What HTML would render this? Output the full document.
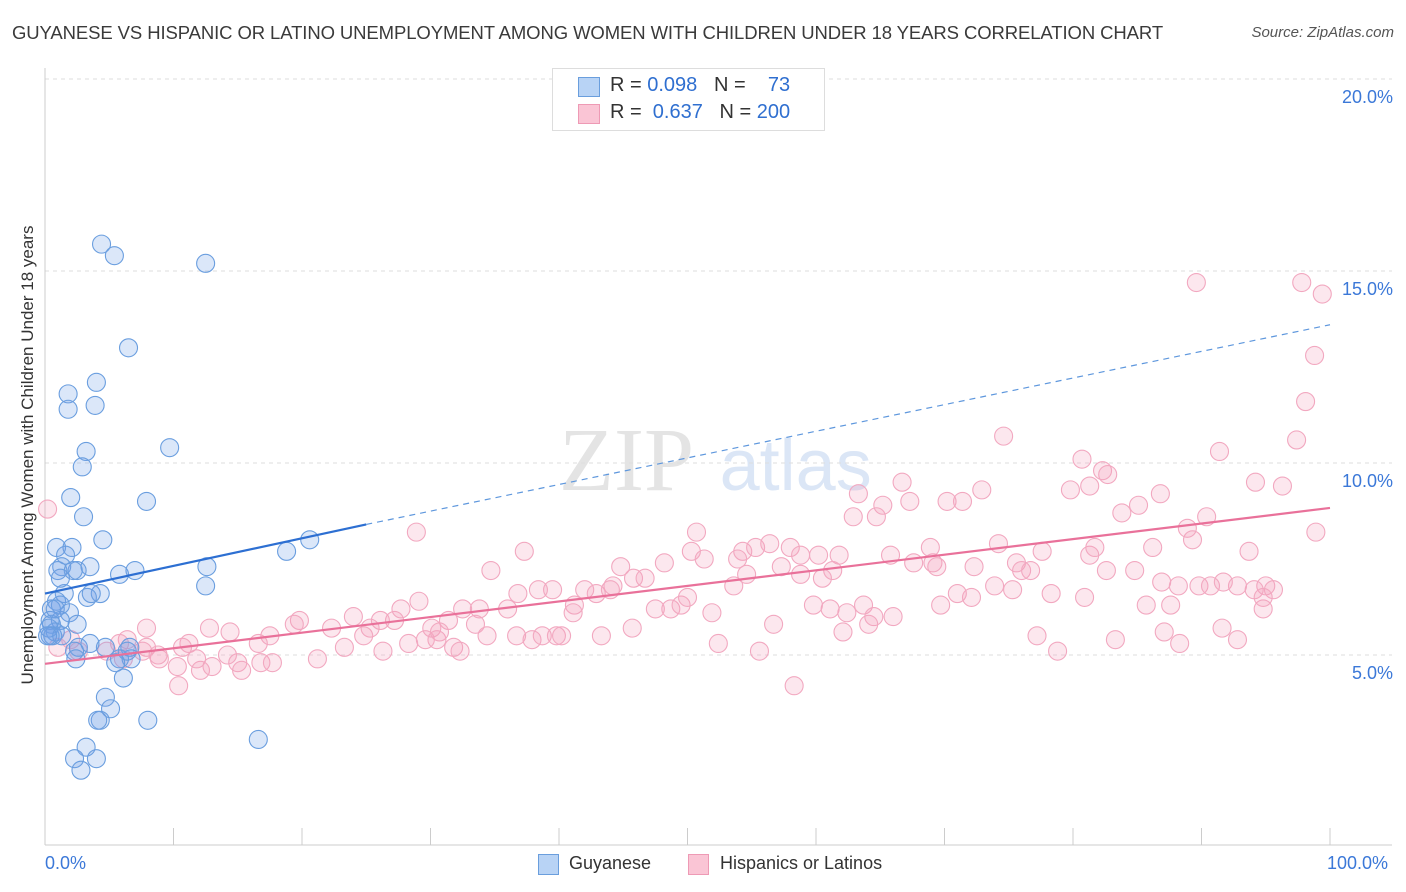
<!DOCTYPE html>
<html><head><meta charset="utf-8">
<style>
body{margin:0;background:#fff;font-family:"Liberation Sans",sans-serif;}
#wrap{position:relative;width:1406px;height:892px;overflow:hidden;}
.t{position:absolute;white-space:nowrap;}
</style></head>
<body>
<div id="wrap">
<div class="t" style="left:12px;top:22px;font-size:18.5px;color:#3a3a3a;letter-spacing:-0.1px;">GUYANESE VS HISPANIC OR LATINO UNEMPLOYMENT AMONG WOMEN WITH CHILDREN UNDER 18 YEARS CORRELATION CHART</div>
<div class="t" style="right:12px;top:24px;font-size:15px;color:#555;font-style:italic;">Source: ZipAtlas.com</div>
<svg id="plot" width="1406" height="892" style="position:absolute;left:0;top:0"></svg>
<div class="t" style="left:552px;top:68px;width:271px;height:61px;border:1px solid #ddd;background:#fff;">
 <div style="position:absolute;left:25px;top:8px;width:20px;height:18px;background:#b8d3f5;border:1px solid #6a9edd;"></div>
 <div style="position:absolute;left:25px;top:35px;width:20px;height:18px;background:#fac5d5;border:1px solid #ee9ab5;"></div>
 <div class="t" style="left:57px;top:5px;font-size:20px;color:#333;">R = <span style="color:#2f6fd0">0.098</span>&nbsp;&nbsp;&nbsp;N = &nbsp;&nbsp;&nbsp;<span style="color:#2f6fd0">73</span></div>
 <div class="t" style="left:57px;top:32px;font-size:20px;color:#333;">R = &nbsp;<span style="color:#2f6fd0">0.637</span>&nbsp;&nbsp;&nbsp;N = <span style="color:#2f6fd0">200</span></div>
</div>
<div class="t" style="left:28px;top:455px;font-size:17px;color:#333;transform:translate(-50%,-50%) rotate(-90deg);">Unemployment Among Women with Children Under 18 years</div>
<div class="t" style="left:45px;top:853px;font-size:18px;color:#3b78d8;">0.0%</div>
<div class="t" style="left:1327px;top:853px;font-size:18px;color:#3b78d8;">100.0%</div>
<div style="position:absolute;left:538px;top:854px;width:19px;height:19px;background:#b8d3f5;border:1px solid #6a9edd;"></div>
<div class="t" style="left:569px;top:853px;font-size:18px;color:#333;">Guyanese</div>
<div style="position:absolute;left:688px;top:854px;width:19px;height:19px;background:#fac5d5;border:1px solid #ee9ab5;"></div>
<div class="t" style="left:720px;top:853px;font-size:18px;color:#333;">Hispanics or Latinos</div>
</div>
<script>
const yTicks=[5,10,15,20];
const yTickLabels=["5.0%","10.0%","15.0%","20.0%"];
const xTicks=[0,10,20,30,40,50,60,70,80,90,100];
const blueX=[4.4,5.4,12.5,6.5,4.0,1.8,3.9,1.8,9.7,3.2,2.9,2.0,7.9,3.0,4.5,20.6,0.9,2.1,1.6,18.8,1.3,3.5,2.5,7.0,1.0,2.2,5.8,12.6,12.5,4.3,3.3,3.6,1.5,0.9,1.2,0.5,1.9,1.2,0.4,2.5,0.5,0.8,0.3,0.6,0.4,2.6,2.3,4.7,6.6,5.8,6.7,5.5,2.4,6.1,4.7,5.1,4.3,4.1,8.0,3.2,16.6,2.3,4.0,2.8,0.8,1.3,0.2,1.2,3.5,6.4];
const blueY=[15.7,15.4,15.2,13.0,12.1,11.8,11.5,11.4,10.4,10.3,9.9,9.1,9.0,8.6,8.0,8.0,7.8,7.8,7.6,7.7,7.3,7.3,7.2,7.2,7.2,7.2,7.1,7.3,6.8,6.6,6.5,6.6,6.6,6.4,6.3,6.2,6.1,5.9,5.9,5.8,5.8,5.6,5.7,5.5,5.5,5.2,5.1,5.2,5.2,4.9,4.9,4.8,4.9,4.4,3.9,3.6,3.3,3.3,3.3,2.6,2.8,2.3,2.3,2.0,6.2,5.5,5.5,7.0,5.3,5.1];
const pinkX=[0.2,28.9,37.3,50.7,74.6,89.6,97.8,99.4,98.8,98.1,97.4,91.4,80.7,82.3,82.7,81.3,79.8,94.2,96.3,86.8,66.7,63.3,65.2,67.3,70.2,71.4,72.9,62.9,64.7,85.1,83.8,90.4,88.9,89.3,98.9,50.3,51.3,54.3,55.3,56.4,58.0,60.2,58.8,54.6,53.9,53.6,57.3,58.8,61.8,65.8,67.6,69.1,69.4,68.9,74.2,77.6,81.3,86.2,81.7,93.7,75.6,72.3,76.0,76.7,82.6,84.8,92.8,95.0,95.6,86.9,89.8,90.7,91.7,94.1,85.7,88.2,87.6,94.8,94.8,80.9,78.3,75.3,73.9,71.0,72.1,69.7,61.1,59.8,62.4,63.7,64.5,61.3,60.5,66.0,44.8,48.2,45.8,46.7,44.2,42.0,42.9,44.0,39.5,36.8,38.4,34.7,36.0,33.8,32.5,33.5,31.4,30.1,30.5,29.6,27.7,27.2,29.1,26.1,24.0,22.3,19.8,19.4,17.5,16.6,14.4,12.8,11.2,10.7,7.9,7.9,6.4,5.8,4.8,2.0,1.0,2.6,6.1,8.9,7.6,8.8,10.3,12.1,13.0,15.0,16.8,17.7,15.3,21.2,10.4,11.8,14.2,23.3,25.3,24.8,26.3,28.3,30.7,31.8,32.3,34.4,36.7,37.9,38.7,39.8,40.2,41.2,41.1,43.3,45.7,47.5,48.7,49.5,50.0,51.9,52.4,55.6,56.7,58.3,62.1,64.1,77.2,78.8,83.3,87.1,88.3,91.6,92.8];
const pinkY=[8.8,8.2,7.7,8.2,10.7,14.7,14.7,14.4,12.8,11.6,10.6,10.3,10.1,9.8,9.7,9.4,9.3,9.5,9.4,9.2,9.5,9.2,8.9,9.0,9.0,9.0,9.3,8.6,8.6,8.9,8.7,8.6,8.3,8.0,8.2,7.7,7.5,7.7,7.8,7.9,7.8,7.6,7.6,7.1,7.5,6.8,7.3,7.1,7.6,7.6,7.4,7.4,7.3,7.8,7.9,7.7,7.6,7.8,7.8,7.7,7.4,7.3,7.2,7.2,7.2,7.2,6.8,6.8,6.7,6.9,6.8,6.8,6.9,6.7,6.3,6.8,6.3,6.2,6.5,6.5,6.6,6.7,6.8,6.6,6.5,6.3,6.2,6.3,6.1,6.3,6.0,7.2,7.0,6.0,7.3,7.4,7.0,7.0,6.8,6.7,6.6,6.7,6.7,6.6,6.7,7.2,6.2,6.2,6.2,5.8,5.9,5.7,5.4,5.4,6.2,5.9,6.4,5.9,6.0,5.7,5.9,5.8,5.5,5.3,5.6,5.7,5.3,5.2,5.7,5.2,5.4,5.3,5.1,5.4,5.2,5.1,4.9,4.9,5.1,5.0,4.7,4.6,4.7,4.8,4.8,4.8,4.6,4.9,4.2,4.9,5.0,5.2,5.7,5.5,5.1,5.3,5.6,5.2,5.1,5.5,5.5,5.4,5.5,5.5,5.5,6.3,6.1,5.5,5.7,6.2,6.2,6.3,6.5,6.1,5.3,5.1,5.8,4.2,5.6,5.8,5.5,5.1,5.4,5.6,5.3,5.7,5.4];
const blueTrend=[[0,6.6],[25,8.4],[100,13.6]];
const pinkTrend=[[0,4.77],[100,8.83]];

const X=v=>45+v*12.85;
const Y=v=>847-v*38.4;
const svg=document.getElementById('plot');
const NS='http://www.w3.org/2000/svg';
function mk(tag,attrs){const e=document.createElementNS(NS,tag);for(const k in attrs)e.setAttribute(k,attrs[k]);svg.appendChild(e);return e;}

let wm=mk('text',{x:X(40),y:Y(9.3),'font-size':90,'font-family':'Liberation Serif, serif',fill:'#e4e4e4'});
wm.textContent='ZIP';


let wm2=mk('text',{x:X(52.5),y:Y(9.3),'font-size':72,'font-family':'Liberation Sans, sans-serif',fill:'#dbe6f6'});
wm2.textContent='atlas';



yTicks.forEach((t,i)=>{
  const g=mk('line',{x1:45,x2:1392,y1:Y(t),y2:Y(t),stroke:'#dedede','stroke-dasharray':'4,4'});
  
  
  const l=mk('text',{x:1393,y:Y(t)+24,'text-anchor':'end','font-size':18,'font-family':'Liberation Sans, sans-serif',fill:'#3b78d8'});
  l.textContent=yTickLabels[i];
  
  
});
let ax=mk('line',{x1:45,x2:45,y1:68,y2:845,stroke:'#ccc'});


let bx=mk('line',{x1:45,x2:1392,y1:845,y2:845,stroke:'#ccc'});


xTicks.forEach(t=>{
  const k=mk('line',{x1:X(t),x2:X(t),y1:828,y2:845,stroke:'#ccc'});
  
  
});

pinkX.forEach((v,i)=>{
  const c=mk('circle',{cx:X(v),cy:Y(pinkY[i]),r:9,fill:'rgba(244,160,188,0.25)',stroke:'#f2a8c0','stroke-width':1.1});
  
  
});
blueX.forEach((v,i)=>{
  const c=mk('circle',{cx:X(v),cy:Y(blueY[i]),r:9,fill:'rgba(110,160,230,0.25)',stroke:'#6a9edf','stroke-width':1.1});
  
  
});

let bt=mk('line',{x1:X(blueTrend[0][0]),y1:Y(blueTrend[0][1]),x2:X(blueTrend[1][0]),y2:Y(blueTrend[1][1]),stroke:'#2d6fd2','stroke-width':2.2});


let bd=mk('line',{x1:X(blueTrend[1][0]),y1:Y(blueTrend[1][1]),x2:X(blueTrend[2][0]),y2:Y(blueTrend[2][1]),stroke:'#5e97dd','stroke-width':1.2,'stroke-dasharray':'6,5'});


let pt=mk('line',{x1:X(pinkTrend[0][0]),y1:Y(pinkTrend[0][1]),x2:X(pinkTrend[1][0]),y2:Y(pinkTrend[1][1]),stroke:'#e9719a','stroke-width':2.2});


</script>
</body></html>
